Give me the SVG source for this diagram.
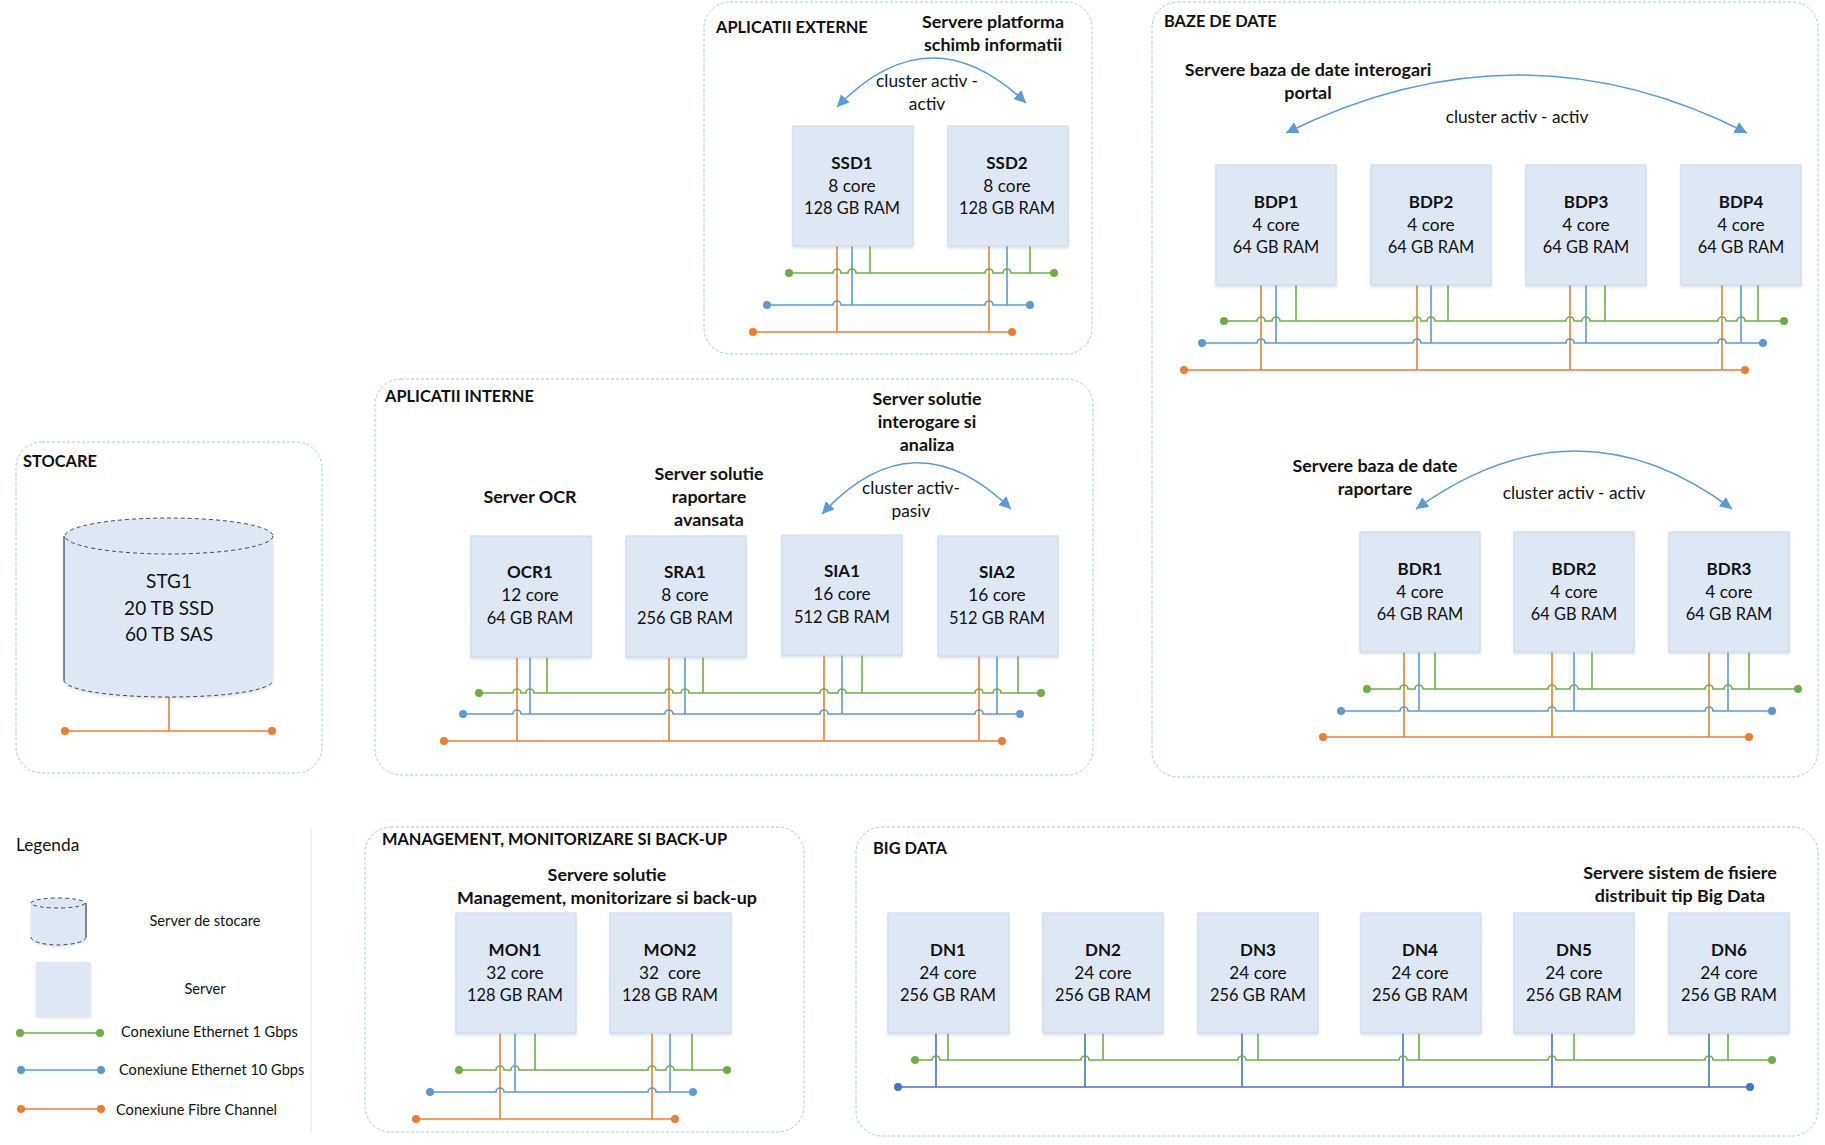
<svg xmlns="http://www.w3.org/2000/svg" width="1825" height="1145" viewBox="0 0 1825 1145">
<style>
text{font-family:Lato,"Liberation Sans",sans-serif;fill:#111;text-anchor:middle;transform:translateY(-1px)}
.t{font-size:17.3px;dominant-baseline:central}
.r{font-size:16.4px;dominant-baseline:central}
.b{font-size:17px;font-weight:700;dominant-baseline:central}
.c{font-size:17.9px;font-weight:700;dominant-baseline:central}
.z{font-size:16.4px;font-weight:700;text-anchor:start;dominant-baseline:central}
.l{font-size:14.6px;dominant-baseline:central}
.s{font-size:19px;dominant-baseline:central}
.zone{fill:#fff;stroke:#9ed3cb;stroke-width:1;stroke-dasharray:3 2}
.srv{fill:#dee8f5;stroke:#ced8e3;stroke-width:1;filter:url(#sh)}
.g,.u,.o,.k,.a{fill:none;stroke-width:1.6}
.g{stroke:#70ad47}.u{stroke:#5b9bd5}.o{stroke:#ed7d31}.k{stroke:#4472c4}
.gd{marker-start:url(#dg);marker-end:url(#dg)}
.ud{marker-start:url(#du);marker-end:url(#du)}
.od{marker-start:url(#do);marker-end:url(#do)}
.kd{marker-start:url(#dk);marker-end:url(#dk)}
.a{stroke:#5b9bd5;marker-start:url(#ar);marker-end:url(#ar)}
.cy{fill:#dee8f5;stroke:none;filter:url(#sh)}
.dl{fill:#dee8f5;stroke:#222;stroke-width:.8;stroke-dasharray:4 3}
.dn{fill:none;stroke:#222;stroke-width:.8;stroke-dasharray:4 3}
.sd{fill:none;stroke:#222;stroke-width:1}
</style>
<defs>
<filter id="sh" x="-10%" y="-10%" width="120%" height="120%"><feDropShadow dx="0" dy="2" stdDeviation="1.5" flood-color="#8aa0b8" flood-opacity=".3"/></filter>
<marker id="dg" markerUnits="userSpaceOnUse" markerWidth="10" markerHeight="10" refX="5" refY="5"><circle cx="5" cy="5" r="4" fill="#70ad47"/></marker>
<marker id="du" markerUnits="userSpaceOnUse" markerWidth="10" markerHeight="10" refX="5" refY="5"><circle cx="5" cy="5" r="4" fill="#5b9bd5"/></marker>
<marker id="do" markerUnits="userSpaceOnUse" markerWidth="10" markerHeight="10" refX="5" refY="5"><circle cx="5" cy="5" r="4" fill="#ed7d31"/></marker>
<marker id="dk" markerUnits="userSpaceOnUse" markerWidth="10" markerHeight="10" refX="5" refY="5"><circle cx="5" cy="5" r="4" fill="#4472c4"/></marker>
<marker id="ar" markerUnits="userSpaceOnUse" markerWidth="14" markerHeight="12" refX="12" refY="6" orient="auto-start-reverse"><path d="M0 0L12 6L0 12z" fill="#5b9bd5"/></marker>
</defs>

<g id="zones">
<g id="zone-externe"><rect class="zone" x="704" y="2" width="388" height="352" rx="26"/><text class="z" x="716" y="27">APLICATII EXTERNE</text>
<text class="c" x="993" y="22">Servere platforma</text><text class="c" x="993" y="45">schimb informatii</text>
<text class="t" x="927" y="81">cluster activ -</text><text class="t" x="927" y="104">activ</text></g>
<g id="zone-baze"><rect class="zone" x="1152" y="2" width="666" height="775" rx="26"/><text class="z" x="1164" y="21">BAZE DE DATE</text>
<text class="c" x="1308" y="70">Servere baza de date interogari</text><text class="c" x="1308" y="93">portal</text>
<text class="t" x="1517" y="117">cluster activ - activ</text>
<text class="c" x="1375" y="466">Servere baza de date</text><text class="c" x="1375" y="489">raportare</text>
<text class="t" x="1574" y="493">cluster activ - activ</text></g>
<g id="zone-interne"><rect class="zone" x="375" y="379" width="718" height="396" rx="26"/><text class="z" x="385" y="396">APLICATII INTERNE</text>
<text class="c" x="927" y="399">Server solutie</text><text class="c" x="927" y="422">interogare si</text><text class="c" x="927" y="445">analiza</text>
<text class="c" x="709" y="474">Server solutie</text><text class="c" x="709" y="497">raportare</text><text class="c" x="709" y="520">avansata</text>
<text class="c" x="530" y="497">Server OCR</text>
<text class="t" x="911" y="488">cluster activ-</text><text class="t" x="911" y="511">pasiv</text></g>
<g id="zone-stocare"><rect class="zone" x="16" y="442" width="306" height="331" rx="26"/><text class="z" x="23" y="461">STOCARE</text></g>
<g id="zone-management"><rect class="zone" x="365" y="827" width="439" height="305" rx="26"/><text class="z" x="382" y="839">MANAGEMENT, MONITORIZARE SI BACK-UP</text>
<text class="c" x="607" y="875">Servere solutie</text><text class="c" x="607" y="898">Management, monitorizare si back-up</text></g>
<g id="zone-bigdata"><rect class="zone" x="856" y="827" width="962" height="309" rx="26"/><text class="z" x="873" y="848">BIG DATA</text>
<text class="c" x="1680" y="873">Servere sistem de fisiere</text><text class="c" x="1680" y="896">distribuit tip Big Data</text></g>
</g>

<g id="connectors">
<g id="bus-externe">
<path class="o" d="M837 246V332M989 246V332"/><path class="u" d="M852 246V305M1007 246V305"/><path class="g" d="M870 246V273M1030 246V273"/>
<path class="g gd" d="M789 273H833a4 4 0 0 1 8 0H848a4 4 0 0 1 8 0H985a4 4 0 0 1 8 0H1003a4 4 0 0 1 8 0H1054"/>
<path class="u ud" d="M767 305H833a4 4 0 0 1 8 0H985a4 4 0 0 1 8 0H1030"/>
<path class="o od" d="M753 332H1012"/>
</g>
<g id="bus-bdp">
<path class="o" d="M1261 285V370M1417 285V370M1570 285V370M1722 285V370"/><path class="u" d="M1276 285V343M1431 285V343M1586 285V343M1741 285V343"/><path class="g" d="M1296 285V321M1448 285V321M1605 285V321M1758 285V321"/>
<path class="g gd" d="M1224 321H1257a4 4 0 0 1 8 0H1272a4 4 0 0 1 8 0H1413a4 4 0 0 1 8 0H1427a4 4 0 0 1 8 0H1566a4 4 0 0 1 8 0H1582a4 4 0 0 1 8 0H1718a4 4 0 0 1 8 0H1737a4 4 0 0 1 8 0H1784"/>
<path class="u ud" d="M1202 343H1257a4 4 0 0 1 8 0H1413a4 4 0 0 1 8 0H1566a4 4 0 0 1 8 0H1718a4 4 0 0 1 8 0H1763"/>
<path class="o od" d="M1184 370H1745"/>
</g>
<g id="bus-bdr">
<path class="o" d="M1404 652V737M1552 652V737M1709 652V737"/><path class="u" d="M1419 652V711M1574 652V711M1728 652V711"/><path class="g" d="M1435 652V689M1592 652V689M1749 652V689"/>
<path class="g gd" d="M1367 689H1400a4 4 0 0 1 8 0H1415a4 4 0 0 1 8 0H1548a4 4 0 0 1 8 0H1570a4 4 0 0 1 8 0H1705a4 4 0 0 1 8 0H1724a4 4 0 0 1 8 0H1798"/>
<path class="u ud" d="M1341 711H1400a4 4 0 0 1 8 0H1548a4 4 0 0 1 8 0H1705a4 4 0 0 1 8 0H1772"/>
<path class="o od" d="M1323 737H1749"/>
</g>
<g id="bus-interne">
<path class="o" d="M517 657V741M669 657V741M824 655V741M979 656V741"/><path class="u" d="M530 657V714M685 657V714M842 655V714M997 656V714"/><path class="g" d="M547 657V693M703 657V693M862 655V693M1018 656V693"/>
<path class="g gd" d="M479 693H513a4 4 0 0 1 8 0H526a4 4 0 0 1 8 0H665a4 4 0 0 1 8 0H681a4 4 0 0 1 8 0H820a4 4 0 0 1 8 0H838a4 4 0 0 1 8 0H975a4 4 0 0 1 8 0H993a4 4 0 0 1 8 0H1041"/>
<path class="u ud" d="M463 714H513a4 4 0 0 1 8 0H665a4 4 0 0 1 8 0H820a4 4 0 0 1 8 0H975a4 4 0 0 1 8 0H1020"/>
<path class="o od" d="M444 741H1002"/>
</g>
<g id="bus-stocare"><path class="o" d="M169 697V731"/><path class="o od" d="M65 731H272"/></g>
<g id="bus-management">
<path class="o" d="M500 1033V1119M652 1033V1119"/><path class="u" d="M515 1033V1092M670 1033V1092"/><path class="g" d="M535 1033V1070M692 1033V1070"/>
<path class="g gd" d="M459 1070H496a4 4 0 0 1 8 0H511a4 4 0 0 1 8 0H648a4 4 0 0 1 8 0H666a4 4 0 0 1 8 0H727"/>
<path class="u ud" d="M430 1092H496a4 4 0 0 1 8 0H648a4 4 0 0 1 8 0H693"/>
<path class="o od" d="M416 1119H675"/>
</g>
<g id="bus-bigdata">
<path class="k" d="M936 1033V1087M1085 1033V1087M1242 1033V1087M1403 1033V1087M1552 1033V1087M1709 1033V1087"/>
<path class="g" d="M948 1033V1060M1103 1033V1060M1258 1033V1060M1419 1033V1060M1574 1033V1060M1728 1033V1060"/>
<path class="g gd" d="M915 1060H932a4 4 0 0 1 8 0H1081a4 4 0 0 1 8 0H1238a4 4 0 0 1 8 0H1399a4 4 0 0 1 8 0H1548a4 4 0 0 1 8 0H1705a4 4 0 0 1 8 0H1772"/>
<path class="k kd" d="M898 1087H1750"/>
</g>
<g id="cluster-arcs">
<path class="a" d="M837 107Q930 11 1026 103"/>
<path class="a" d="M1286 133Q1520 17 1747 133"/>
<path class="a" d="M1416 509Q1578 393 1732 509"/>
<path class="a" d="M822 514Q914 414 1011 509"/>
</g>
</g>

<g id="nodes">
<g id="SSD1"><rect class="srv" x="793" y="126" width="120" height="120"/><text class="b" x="852" y="163">SSD1</text><text class="t" x="852" y="186">8 core</text><text class="r" x="852" y="208">128 GB RAM</text></g>
<g id="SSD2"><rect class="srv" x="948" y="126" width="120" height="120"/><text class="b" x="1007" y="163">SSD2</text><text class="t" x="1007" y="186">8 core</text><text class="r" x="1007" y="208">128 GB RAM</text></g>
<g id="BDP1"><rect class="srv" x="1216" y="165" width="120" height="120"/><text class="b" x="1276" y="202">BDP1</text><text class="t" x="1276" y="225">4 core</text><text class="r" x="1276" y="247">64 GB RAM</text></g>
<g id="BDP2"><rect class="srv" x="1371" y="165" width="120" height="120"/><text class="b" x="1431" y="202">BDP2</text><text class="t" x="1431" y="225">4 core</text><text class="r" x="1431" y="247">64 GB RAM</text></g>
<g id="BDP3"><rect class="srv" x="1526" y="165" width="120" height="120"/><text class="b" x="1586" y="202">BDP3</text><text class="t" x="1586" y="225">4 core</text><text class="r" x="1586" y="247">64 GB RAM</text></g>
<g id="BDP4"><rect class="srv" x="1681" y="165" width="120" height="120"/><text class="b" x="1741" y="202">BDP4</text><text class="t" x="1741" y="225">4 core</text><text class="r" x="1741" y="247">64 GB RAM</text></g>
<g id="BDR1"><rect class="srv" x="1360" y="532" width="120" height="120"/><text class="b" x="1420" y="569">BDR1</text><text class="t" x="1420" y="592">4 core</text><text class="r" x="1420" y="614">64 GB RAM</text></g>
<g id="BDR2"><rect class="srv" x="1514" y="532" width="120" height="120"/><text class="b" x="1574" y="569">BDR2</text><text class="t" x="1574" y="592">4 core</text><text class="r" x="1574" y="614">64 GB RAM</text></g>
<g id="BDR3"><rect class="srv" x="1669" y="532" width="120" height="120"/><text class="b" x="1729" y="569">BDR3</text><text class="t" x="1729" y="592">4 core</text><text class="r" x="1729" y="614">64 GB RAM</text></g>
<g id="OCR1"><rect class="srv" x="471" y="536" width="120" height="121"/><text class="b" x="530" y="572">OCR1</text><text class="t" x="530" y="595">12 core</text><text class="r" x="530" y="618">64 GB RAM</text></g>
<g id="SRA1"><rect class="srv" x="626" y="536" width="120" height="121"/><text class="b" x="685" y="572">SRA1</text><text class="t" x="685" y="595">8 core</text><text class="r" x="685" y="618">256 GB RAM</text></g>
<g id="SIA1"><rect class="srv" x="782" y="535" width="120" height="120"/><text class="b" x="842" y="571">SIA1</text><text class="t" x="842" y="594">16 core</text><text class="r" x="842" y="617">512 GB RAM</text></g>
<g id="SIA2"><rect class="srv" x="938" y="536" width="120" height="120"/><text class="b" x="997" y="572">SIA2</text><text class="t" x="997" y="595">16 core</text><text class="r" x="997" y="618">512 GB RAM</text></g>
<g id="STG1"><path class="cy" d="M64 536V680C64 690 110 697 169 697S273 690 273 680V536z"/><ellipse class="dl" cx="169" cy="536" rx="104" ry="18"/><path class="sd" d="M64 536V680"/><path class="dn" d="M64 680C64 690 110 697 169 697S273 690 273 680"/>
<text class="s" x="169" y="581">STG1</text><text class="s" x="169" y="608">20 TB SSD</text><text class="s" x="169" y="634">60 TB SAS</text></g>
<g id="MON1"><rect class="srv" x="456" y="913" width="120" height="120"/><text class="b" x="515" y="950">MON1</text><text class="t" x="515" y="973">32 core</text><text class="r" x="515" y="995">128 GB RAM</text></g>
<g id="MON2"><rect class="srv" x="610" y="913" width="121" height="120"/><text class="b" x="670" y="950">MON2</text><text class="t" x="670" y="973" xml:space="preserve">32  core</text><text class="r" x="670" y="995">128 GB RAM</text></g>
<g id="DN1"><rect class="srv" x="888" y="913" width="121" height="120"/><text class="b" x="948" y="950">DN1</text><text class="t" x="948" y="973">24 core</text><text class="r" x="948" y="995">256 GB RAM</text></g>
<g id="DN2"><rect class="srv" x="1043" y="913" width="120" height="120"/><text class="b" x="1103" y="950">DN2</text><text class="t" x="1103" y="973">24 core</text><text class="r" x="1103" y="995">256 GB RAM</text></g>
<g id="DN3"><rect class="srv" x="1198" y="913" width="120" height="120"/><text class="b" x="1258" y="950">DN3</text><text class="t" x="1258" y="973">24 core</text><text class="r" x="1258" y="995">256 GB RAM</text></g>
<g id="DN4"><rect class="srv" x="1361" y="913" width="120" height="120"/><text class="b" x="1420" y="950">DN4</text><text class="t" x="1420" y="973">24 core</text><text class="r" x="1420" y="995">256 GB RAM</text></g>
<g id="DN5"><rect class="srv" x="1514" y="913" width="120" height="120"/><text class="b" x="1574" y="950">DN5</text><text class="t" x="1574" y="973">24 core</text><text class="r" x="1574" y="995">256 GB RAM</text></g>
<g id="DN6"><rect class="srv" x="1669" y="913" width="120" height="120"/><text class="b" x="1729" y="950">DN6</text><text class="t" x="1729" y="973">24 core</text><text class="r" x="1729" y="995">256 GB RAM</text></g>
</g>

<g id="legend">
<path d="M311 828V1133" fill="none" stroke="#dfe7ee" stroke-width="1"/>
<text class="t" x="16" y="845" style="text-anchor:start">Legenda</text>
<g id="legend-storage"><path class="cy" d="M31 903V937C31 942 45 945 58 945S86 942 86 937V903z"/><ellipse class="dl" cx="58" cy="903" rx="27" ry="5"/><path class="sd" d="M86 903V937"/><path class="dn" d="M31 937C31 942 45 945 58 945S86 942 86 937"/><text class="l" x="205" y="921">Server de stocare</text></g>
<g id="legend-server"><rect class="srv" x="36" y="962" width="55" height="54" style="stroke:none"/><text class="l" x="205" y="989">Server</text></g>
<path class="g gd" d="M20 1033H100"/><text class="l" x="121" y="1032" style="text-anchor:start">Conexiune Ethernet 1 Gbps</text>
<path class="u ud" d="M21 1070H101"/><text class="l" x="119" y="1070" style="text-anchor:start">Conexiune Ethernet 10 Gbps</text>
<path class="o od" d="M21 1109H101"/><text class="l" x="116" y="1110" style="text-anchor:start">Conexiune Fibre Channel</text>
</g>
</svg>
